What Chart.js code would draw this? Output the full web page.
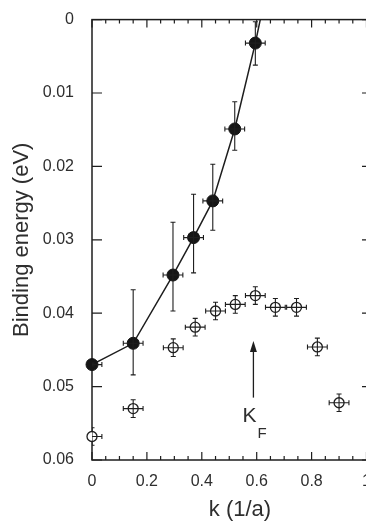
<!DOCTYPE html>
<html>
<head>
<meta charset="utf-8">
<script src="https://cdn.jsdelivr.net/npm/chart.js@4.4.1/dist/chart.umd.min.js"></script>
<style>
  html, body { margin: 0; padding: 0; background: #ffffff; overflow: hidden; width: 366px; height: 525px; }
  #wrap { position: absolute; left: 0; top: 0; width: 400px; height: 525px; }
</style>
</head>
<body>
<div id="wrap"><canvas id="c" width="400" height="525"></canvas></div>
<script>
// ---- data ----
const kFilled = [0, 0.15, 0.295, 0.37, 0.44, 0.52, 0.595];
const eFilled = [0.0470, 0.0441, 0.0348, 0.0297, 0.0247, 0.0149, 0.0032];
const eFilledTop = [0.0468, 0.0368, 0.0276, 0.0238, 0.0197, 0.0112, 0.0003];
const eFilledBottom = [0.0472, 0.0484, 0.0397, 0.0345, 0.0287, 0.0178, 0.0062];

const kOpen = [0, 0.15, 0.296, 0.376, 0.45, 0.522, 0.595, 0.668, 0.745, 0.821, 0.9];
const eOpen = [0.0568, 0.0530, 0.0447, 0.0419, 0.0397, 0.0388, 0.0376, 0.0392, 0.0392, 0.0446, 0.0522];
const eOpenErr = [0.0012, 0.0012, 0.0012, 0.0012, 0.0012, 0.0012, 0.0012, 0.0012, 0.0012, 0.0012, 0.0012];

const kErr = 0.036;

// fitted curve through filled points, continued to the top edge
const kLine = [0, 0.15, 0.295, 0.37, 0.44, 0.52, 0.595, 0.613];
const eLine = [0.0470, 0.0441, 0.0348, 0.0297, 0.0247, 0.0149, 0.0032, 0];

const xTicks = [0, 0.2, 0.4, 0.6, 0.8, 1];
const xTickLabels = ['0', '0.2', '0.4', '0.6', '0.8', '1'];
const yTicks = [0, 0.01, 0.02, 0.03, 0.04, 0.05, 0.06];
const yTickLabels = ['0', '0.01', '0.02', '0.03', '0.04', '0.05', '0.06'];

const xTitle = 'k (1/a)';
const yTitle = 'Binding energy (eV)';
const kfK = 0.588;
const kfArrowFrom = 0.0515;
const kfArrowTo = 0.0438;
const kfMain = 'K';
const kfSub = 'F';

// ---- drawing ----
const INK = '#1e1e1e';
const TXT = '#2e2e2e';
const FONT = '"Liberation Sans", Arial, Helvetica, sans-serif';

function toPts(xs, ys) { return xs.map((x, i) => ({ x: x, y: ys[i] })); }

const framePlugin = {
  id: 'frame',
  beforeDatasetsDraw(chart) {
    const { ctx, chartArea: a, scales: { x, y } } = chart;
    ctx.save();
    ctx.strokeStyle = INK;
    ctx.lineWidth = 1.5;
    ctx.strokeRect(a.left, a.top, a.right - a.left, a.bottom - a.top);
    ctx.lineWidth = 1.2;
    ctx.beginPath();
    for (let i = 0; i <= 20; i++) {
      const v = i * 0.05;
      const px = x.getPixelForValue(v);
      const major = (i % 4 === 0);
      const len = major ? 8 : 4;
      ctx.moveTo(px, a.bottom); ctx.lineTo(px, a.bottom - len);
      ctx.moveTo(px, a.top); ctx.lineTo(px, a.top + len);
    }
    yTicks.forEach(v => {
      const py = y.getPixelForValue(v);
      ctx.moveTo(a.left, py); ctx.lineTo(a.left + 10, py);
      ctx.moveTo(a.right, py); ctx.lineTo(a.right - 10, py);
    });
    ctx.stroke();
    ctx.restore();
  },
  afterDatasetsDraw(chart) {
    const { ctx, chartArea: a, scales: { x, y } } = chart;
    ctx.save();
    ctx.beginPath();
    ctx.rect(a.left, 0, chart.width, chart.height);
    ctx.clip();
    ctx.strokeStyle = INK;
    ctx.lineWidth = 1.1;
    const cap = 2.5;
    function bars(kx, ey, top, bot) {
      const px = x.getPixelForValue(kx);
      const py = y.getPixelForValue(ey);
      const pl = x.getPixelForValue(kx - kErr);
      const pr = x.getPixelForValue(kx + kErr);
      const pt = y.getPixelForValue(top);
      const pb = y.getPixelForValue(bot);
      ctx.beginPath();
      ctx.moveTo(pl, py); ctx.lineTo(pr, py);
      ctx.moveTo(pl, py - cap); ctx.lineTo(pl, py + cap);
      ctx.moveTo(pr, py - cap); ctx.lineTo(pr, py + cap);
      if (Math.abs(pb - pt) > 1) {
        ctx.moveTo(px, pt); ctx.lineTo(px, pb);
        ctx.moveTo(px - cap, pt); ctx.lineTo(px + cap, pt);
        ctx.moveTo(px - cap, pb); ctx.lineTo(px + cap, pb);
      }
      ctx.stroke();
    }
    kFilled.forEach((k, i) => bars(k, eFilled[i], eFilledTop[i], eFilledBottom[i]));
    kOpen.forEach((k, i) => bars(k, eOpen[i], eOpen[i] - eOpenErr[i], eOpen[i] + eOpenErr[i]));
    ctx.restore();

    // K_F arrow
    ctx.save();
    const ax = x.getPixelForValue(kfK);
    const ay0 = y.getPixelForValue(kfArrowFrom);
    const ay1 = y.getPixelForValue(kfArrowTo);
    ctx.strokeStyle = INK;
    ctx.fillStyle = INK;
    ctx.lineWidth = 1.3;
    ctx.beginPath();
    ctx.moveTo(ax, ay0); ctx.lineTo(ax, ay1 + 8);
    ctx.stroke();
    ctx.beginPath();
    ctx.moveTo(ax, ay1); ctx.lineTo(ax - 3.5, ay1 + 11); ctx.lineTo(ax + 3.5, ay1 + 11);
    ctx.closePath(); ctx.fill();
    ctx.fillStyle = TXT;
    ctx.textBaseline = 'alphabetic';
    ctx.textAlign = 'left';
    ctx.font = '21px ' + FONT;
    ctx.fillText(kfMain, ax - 11, ay0 + 24);
    ctx.font = '15px ' + FONT;
    ctx.fillText(kfSub, ax + 4, ay0 + 40);

    // x axis title
    ctx.font = '22px ' + FONT;
    ctx.textAlign = 'center';
    ctx.fillText(xTitle, (a.left + a.right) / 2 + 8, 516);
    ctx.restore();
  }
};

const bgPlugin = {
  id: 'bg',
  beforeDraw(chart) {
    const ctx = chart.ctx;
    ctx.save();
    ctx.fillStyle = '#ffffff';
    ctx.fillRect(0, 0, chart.width, chart.height);
    ctx.restore();
  }
};

new Chart(document.getElementById('c'), {
  type: 'scatter',
  data: {
    datasets: [
      {
        label: 'open',
        data: toPts(kOpen, eOpen),
        pointStyle: 'circle',
        pointRadius: 5,
        pointBackgroundColor: '#ffffff',
        pointBorderColor: INK,
        pointBorderWidth: 1.3,
        showLine: false,
        clip: false
      },
      {
        label: 'filled',
        data: toPts(kFilled, eFilled),
        pointStyle: 'circle',
        pointRadius: 6,
        pointBackgroundColor: '#151515',
        pointBorderColor: '#151515',
        pointBorderWidth: 1,
        showLine: false,
        clip: false
      },
      {
        label: 'line',
        data: toPts(kLine, eLine),
        showLine: true,
        pointRadius: 0,
        borderColor: INK,
        borderWidth: 1.5,
        tension: 0,
        fill: false
      }
    ]
  },
  options: {
    responsive: false,
    animation: false,
    devicePixelRatio: 1,
    layout: { padding: { left: 0, top: 12, right: 28, bottom: 0 } },
    plugins: { legend: { display: false }, tooltip: { enabled: false } },
    scales: {
      x: {
        type: 'linear',
        min: 0, max: 1.02,
        grid: { display: false },
        border: { display: false },
        afterBuildTicks: s => { s.ticks = xTicks.map(v => ({ value: v })); },
        afterFit: s => { s.height = 65; },
        ticks: {
          padding: 4,
          color: TXT,
          font: { family: FONT, size: 16 },
          maxRotation: 0,
          autoSkip: false,
          callback: (v, i) => xTickLabels[i]
        },
        title: { display: false, text: xTitle }
      },
      y: {
        type: 'linear',
        min: 0, max: 0.06,
        reverse: true,
        grid: { display: false },
        border: { display: false },
        afterBuildTicks: s => { s.ticks = yTicks.map(v => ({ value: v })); },
        afterFit: s => { s.width = 92; },
        ticks: {
          padding: 10,
          color: TXT,
          font: { family: FONT, size: 16 },
          autoSkip: false,
          callback: (v, i) => yTickLabels[i]
        },
        title: {
          display: true,
          text: yTitle,
          color: TXT,
          font: { family: FONT, size: 22 },
          padding: { top: 9, bottom: 0 }
        }
      }
    }
  },
  plugins: [bgPlugin, framePlugin]
});
</script>
</body>
</html>
